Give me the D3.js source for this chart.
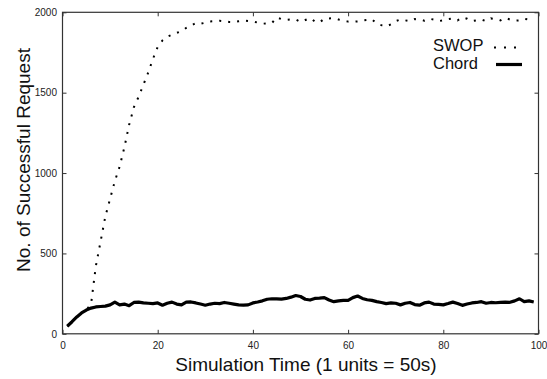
<!DOCTYPE html>
<html>
<head>
<meta charset="utf-8">
<script src="https://cdn.jsdelivr.net/npm/d3@7"></script>
<style>
  html, body { margin: 0; padding: 0; background: #fff; }
  svg { display: block; }
  text { font-family: "Liberation Sans", Arial, Helvetica, sans-serif; }
</style>
</head>
<body>
<svg id="chart" width="547" height="379"></svg>
<script>
// ---- data ----
const time = d3.range(1, 100); // 1..99
const swop = [
  47, 75, 105, 130, 148, 185, 420, 574, 730, 840,
  950, 1040, 1160, 1300, 1410, 1475, 1550, 1624, 1710, 1785,
  1825, 1848, 1860, 1872, 1883, 1903, 1918, 1933, 1929, 1935,
  1943, 1945, 1947, 1944, 1940, 1939, 1944, 1949, 1946, 1943,
  1936, 1929, 1931, 1933, 1968, 1958, 1953, 1956, 1955, 1940,
  1952, 1964, 1944, 1937, 1960, 1962, 1964, 1955, 1948, 1942,
  1941, 1943, 1950, 1953, 1957, 1930, 1920, 1912, 1925, 1945,
  1955, 1950, 1945, 1958, 1955, 1948, 1960, 1955, 1945, 1950,
  1958, 1962, 1950, 1968, 1960, 1945, 1950, 1955, 1945, 1962,
  1958, 1950, 1965, 1955, 1948, 1950, 1960, 1955, 1958
];
const chord = [
  47, 75, 105, 130, 148, 160, 167, 170, 172, 180,
  197, 180, 185, 175, 195, 197, 192, 190, 188, 192,
  178, 190, 197, 185, 180, 197, 198, 192, 185, 178,
  185, 190, 188, 195, 190, 185, 180, 178, 180, 192,
  198, 205, 215, 218, 217, 216, 220, 228, 238, 232,
  215, 210, 220, 222, 225, 210, 200, 205, 208, 208,
  225, 235, 220, 212, 208, 200, 195, 188, 192, 190,
  180, 190, 195, 182, 178, 192, 197, 185, 183, 180,
  188, 197, 188, 177, 185, 192, 195, 200, 190, 195,
  193, 196, 197, 196, 205, 218, 200, 205, 198
];
const xTicks = [0, 20, 40, 60, 80, 100];
const yTicks = [0, 500, 1000, 1500, 2000];
const seriesNames = ["SWOP", "Chord"];
const xLabel = "Simulation Time (1 units = 50s)";
const yLabel = "No. of Successful Request";

// ---- layout ----
const L = 62.5, R = 538.5, T = 12.3, B = 333.8;
const svg = d3.select("#chart");
const x = d3.scaleLinear().domain([0, 100]).range([L, R]);
const y = d3.scaleLinear().domain([0, 2000]).range([B, T]);

const axisColor = "#333";
const fmt = d3.format("d");

// axes (ticks inward, mirrored)
const gB = svg.append("g").attr("transform", `translate(0,${B})`)
  .call(d3.axisBottom(x).tickValues(xTicks).tickFormat(fmt).tickSize(-4).tickPadding(8));
const gT = svg.append("g").attr("transform", `translate(0,${T})`)
  .call(d3.axisTop(x).tickValues(xTicks).tickSize(-4).tickFormat(""));
const gL = svg.append("g").attr("transform", `translate(${L},0)`)
  .call(d3.axisLeft(y).tickValues(yTicks).tickFormat(fmt).tickSize(-4).tickPadding(5.5));
const gR = svg.append("g").attr("transform", `translate(${R},0)`)
  .call(d3.axisRight(y).tickValues(yTicks).tickSize(-4).tickFormat(""));

[gB, gT, gL, gR].forEach(g => {
  g.select(".domain").remove();
  g.selectAll(".tick line").attr("stroke", axisColor).attr("stroke-width", 1);
  g.selectAll(".tick text").attr("fill", "#222").style("font-size", "10px")
    .style("font-family", '"Liberation Sans", Arial, sans-serif');
});

// frame
svg.append("rect")
  .attr("x", L).attr("y", T).attr("width", R - L).attr("height", B - T)
  .attr("fill", "none").attr("stroke", axisColor).attr("stroke-width", 1.2);

// lines
const line = d3.line().x((d, i) => x(time[i])).y(d => y(d));

svg.append("path").datum(swop)
  .attr("d", line).attr("fill", "none")
  .attr("stroke", "#000").attr("stroke-width", 2)
  .attr("stroke-dasharray", "2,7");

svg.append("path").datum(chord)
  .attr("d", line).attr("fill", "none")
  .attr("stroke", "#000").attr("stroke-width", 3.2)
  .attr("stroke-linejoin", "round");

// axis labels
svg.append("text")
  .attr("x", 306).attr("y", 371)
  .attr("text-anchor", "middle")
  .style("font-size", "19px").attr("fill", "#111")
  .text(xLabel);

svg.append("text")
  .attr("transform", "translate(30,160) rotate(-90)")
  .attr("text-anchor", "middle")
  .style("font-size", "19px").attr("fill", "#111")
  .text(yLabel);

// legend
const legend = svg.append("g");
const legY = [50.5, 69];
seriesNames.forEach((name, i) => {
  legend.append("text")
    .attr("x", 433).attr("y", legY[i])
    .style("font-size", "16.5px").attr("fill", "#111")
    .text(name);
});
legend.append("line")
  .attr("x1", 494).attr("x2", 520).attr("y1", 47.5).attr("y2", 47.5)
  .attr("stroke", "#000").attr("stroke-width", 2).attr("stroke-dasharray", "2,8");
legend.append("line")
  .attr("x1", 496).attr("x2", 522).attr("y1", 64.5).attr("y2", 64.5)
  .attr("stroke", "#000").attr("stroke-width", 3.2);
</script>
</body>
</html>
